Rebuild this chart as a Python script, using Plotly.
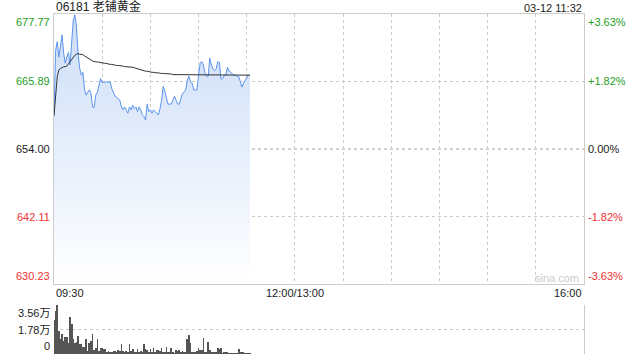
import plotly.graph_objects as go

# ---------------- data ----------------
title_text = "06181 老铺黄金"
stamp_text = "03-12 11:32"
prev_close = 654.00
price_ticks = [677.77, 665.89, 654.00, 642.11, 630.23]
price_labels = ["677.77", "665.89", "654.00", "642.11", "630.23"]
pct_labels = ["+3.63%", "+1.82%", "0.00%", "-1.82%", "-3.63%"]
label_colors = ["#1ea01e", "#1ea01e", "#222222", "#ee3333", "#ee3333"]
time_pos = [0, 150, 330]
time_labels = ["09:30", "12:00/13:00", "16:00"]
grid_minutes = [30, 60, 90, 120, 150, 180, 210, 240, 270, 300]
vol_ticks = [0, 17800, 35600]
vol_labels = ["0", "1.78万", "3.56万"]

price = [659.9, 671.4, 672.9, 670.2, 672.0, 674.1, 670.9, 669.1, 670.2, 671.0,
         668.8, 673.8, 676.7, 677.6, 675.5, 670.9, 668.2, 667.0, 667.5, 664.4,
         663.5, 664.0, 664.4, 663.8, 661.4, 661.3, 663.5, 664.0, 665.3, 666.4,
         665.7, 665.8, 665.8, 665.8, 665.8, 665.8, 664.6, 663.9, 663.3, 663.1,
         662.9, 662.6, 661.4, 660.9, 661.4, 660.9, 660.3, 661.4, 660.9, 661.7,
         661.1, 661.4, 660.6, 661.4, 660.9, 660.0, 659.7, 659.1, 661.9, 660.6,
         660.9, 660.3, 660.9, 660.6, 660.3, 660.0, 661.1, 662.6, 665.0, 664.2,
         663.0, 661.9, 661.9, 661.9, 662.6, 663.3, 662.6, 661.9, 661.9, 663.0,
         663.8, 664.0, 664.4, 666.1, 666.8, 665.8, 665.6, 664.4, 664.4, 664.4,
         667.0, 669.1, 669.4, 668.8, 667.3, 666.8, 666.8, 670.0, 668.8, 668.1,
         667.8, 668.1, 669.4, 669.2, 666.3, 666.4, 667.0, 667.0, 668.4, 667.7,
         667.5, 667.3, 667.0, 667.0, 666.8, 666.8, 665.8, 664.9, 665.6, 666.1,
         666.7, 667.0, 667.0]

avg_price = [659.8, 663.9, 666.7, 667.9, 668.2, 668.3, 668.5, 668.5, 668.6, 669.0,
             669.4, 669.8, 670.1, 670.5, 670.7, 670.8, 670.7, 670.7, 670.6, 670.4,
             670.2, 670.0, 669.8, 669.6, 669.5, 669.4, 669.3, 669.3, 669.3, 669.2,
             669.2, 669.1, 669.1, 669.0, 669.0, 668.9, 668.9, 668.8, 668.8, 668.7,
             668.7, 668.7, 668.6, 668.6, 668.5, 668.5, 668.5, 668.4, 668.4, 668.4,
             668.3, 668.2, 668.1, 668.0, 667.9, 667.9, 667.8, 667.7, 667.7, 667.6,
             667.6, 667.5, 667.5, 667.4, 667.4, 667.4, 667.3, 667.3, 667.3, 667.3,
             667.3, 667.2, 667.2, 667.2, 667.1, 667.1, 667.1, 667.1, 667.1, 667.1,
             667.1, 667.0, 667.0, 667.0, 667.0, 667.0, 667.0, 667.0, 667.0, 667.0,
             667.0, 667.0, 667.0, 667.0, 667.0, 667.0, 667.0, 667.0, 667.0, 667.0,
             667.0, 667.0, 667.0, 667.0, 667.0, 667.0, 667.0, 667.0, 667.0, 667.0,
             667.0, 667.0, 667.0, 667.0, 667.0, 667.0, 667.0, 667.0, 667.0, 667.0,
             667.0, 667.0, 667.0]

volume = [24870, 31450, 35600, 16800, 11000, 14400, 9500, 12700, 12700, 8300,
          26600, 21700, 11200, 8300, 8800, 13200, 7100, 7600, 5400, 5400,
          10700, 2200, 7800, 9500, 14400, 2900, 4600, 10700, 2200, 4600,
          4600, 3900, 3400, 1500, 2200, 1500, 1200, 2200, 2200, 1500,
          2900, 2200, 7100, 2200, 1000, 2200, 1000, 7100, 2200, 3400,
          1500, 1000, 3900, 1000, 2200, 1500, 7100, 3900, 2900, 1000,
          3400, 1500, 4600, 1500, 2900, 2700, 2200, 4600, 1000, 1000,
          5400, 1000, 1000, 4600, 1000, 500, 2700, 2200, 2700, 1500,
          2200, 1500, 1000, 11200, 13600, 8300, 1000, 1000, 1000, 2200,
          4600, 2700, 2900, 11900, 1500, 1000, 8800, 2900, 1000, 1000,
          1000, 1500, 4600, 3900, 4600, 500, 1000, 1000, 1500, 500,
          500, 500, 500, 500, 500, 3400, 1500, 1000, 1000, 500,
          500, 500, 500]

minutes = list(range(len(price)))

FONT = "Arial, Liberation Sans, Noto Sans CJK SC, sans-serif"
GRID = "#cccccc"

fig = go.Figure()

fig.add_trace(go.Scatter(
    x=minutes, y=price, mode="lines",
    line=dict(color="#5b94ee", width=1),
    fill="tozeroy",
    fillgradient=dict(type="vertical", start=price_ticks[-1], stop=price_ticks[0],
                      colorscale=[[0, "rgb(255,255,255)"], [1, "rgb(204,221,248)"]]),
    hoverinfo="skip", xaxis="x", yaxis="y"))

fig.add_trace(go.Scatter(
    x=minutes, y=avg_price, mode="lines",
    line=dict(color="#333333", width=1),
    hoverinfo="skip", xaxis="x", yaxis="y"))

fig.add_trace(go.Bar(
    x=minutes, y=volume, width=0.45,
    marker=dict(color="#555555", line=dict(width=0)),
    hoverinfo="skip", xaxis="x2", yaxis="y2"))

fig.add_shape(type="line", xref="x", yref="y", x0=0, x1=330, y0=prev_close, y1=prev_close,
              line=dict(color="#aaaaaa", width=1, dash="dot"), layer="below")

annotations = []
for v, lab, pct, col in zip(price_ticks, price_labels, pct_labels, label_colors):
    if v == price_ticks[0]:
        ya = "top"
    elif v == price_ticks[-1]:
        ya = "bottom"
    else:
        ya = "middle"
    annotations.append(dict(xref="paper", yref="y", x=0, y=v, text=lab, showarrow=False,
                            xanchor="right", yanchor=ya, xshift=-2,
                            font=dict(family=FONT, size=11, color=col)))
    annotations.append(dict(xref="paper", yref="y", x=1, y=v, text=pct, showarrow=False,
                            xanchor="left", yanchor=ya, xshift=2,
                            font=dict(family=FONT, size=11, color=col)))

for t, lab in zip(time_pos, time_labels):
    xa = "left" if t == time_pos[0] else ("right" if t == time_pos[-1] else "center")
    annotations.append(dict(xref="x", yref="y", x=t, y=price_ticks[-1], text=lab,
                            showarrow=False, xanchor=xa, yanchor="top", yshift=-1,
                            font=dict(family=FONT, size=11, color="#222222")))

for v, lab in zip(vol_ticks, vol_labels):
    ya = "bottom" if v == vol_ticks[0] else ("top" if v == vol_ticks[-1] else "middle")
    annotations.append(dict(xref="paper", yref="y2", x=0, y=v, text=lab, showarrow=False,
                            xanchor="right", yanchor=ya, xshift=-2,
                            font=dict(family=FONT, size=11, color="#222222")))

annotations.append(dict(xref="paper", yref="paper", x=0, y=1, text=title_text,
                        showarrow=False, xanchor="left", yanchor="bottom", yshift=-2,
                        font=dict(family=FONT, size=12, color="#222222")))
annotations.append(dict(xref="paper", yref="paper", x=1, y=1, text=stamp_text,
                        showarrow=False, xanchor="right", yanchor="bottom", yshift=-2,
                        font=dict(family=FONT, size=11, color="#222222")))
annotations.append(dict(xref="x", yref="y", x=330, y=price_ticks[-1], text="sina.com",
                        showarrow=False, xanchor="right", yanchor="bottom", xshift=-3, yshift=-2,
                        font=dict(family=FONT, size=11, color="#cccccc")))

fig.update_layout(
    width=640, height=360,
    margin=dict(l=54, r=56, t=14, b=6),
    paper_bgcolor="white", plot_bgcolor="white",
    showlegend=False, hovermode=False,
    annotations=annotations,
    xaxis=dict(domain=[0, 1], range=[0, 330], tickvals=grid_minutes, showticklabels=False,
               ticks="", showgrid=True, gridcolor=GRID, griddash="dot", gridwidth=1,
               showline=True, mirror=True, linecolor=GRID, linewidth=1, zeroline=False,
               anchor="y"),
    yaxis=dict(domain=[0.2059, 1], range=[price_ticks[-1], price_ticks[0]],
               tickvals=price_ticks, showticklabels=False, ticks="",
               showgrid=True, gridcolor=GRID, griddash="dot", gridwidth=1,
               showline=True, mirror=True, linecolor=GRID, linewidth=1, zeroline=False,
               anchor="x"),
    xaxis2=dict(domain=[0, 1], range=[0, 330], showticklabels=False, ticks="",
                showgrid=False, showline=False, zeroline=False, anchor="y2"),
    yaxis2=dict(domain=[0, 0.1441], range=[0, 35600], tickvals=vol_ticks,
                showticklabels=False, ticks="", showgrid=True, gridcolor=GRID,
                griddash="dot", gridwidth=1, showline=True, side="right",
                linecolor=GRID, linewidth=1, zeroline=False, anchor="x2"),
    bargap=0,
)

fig.write_html("out.html")
